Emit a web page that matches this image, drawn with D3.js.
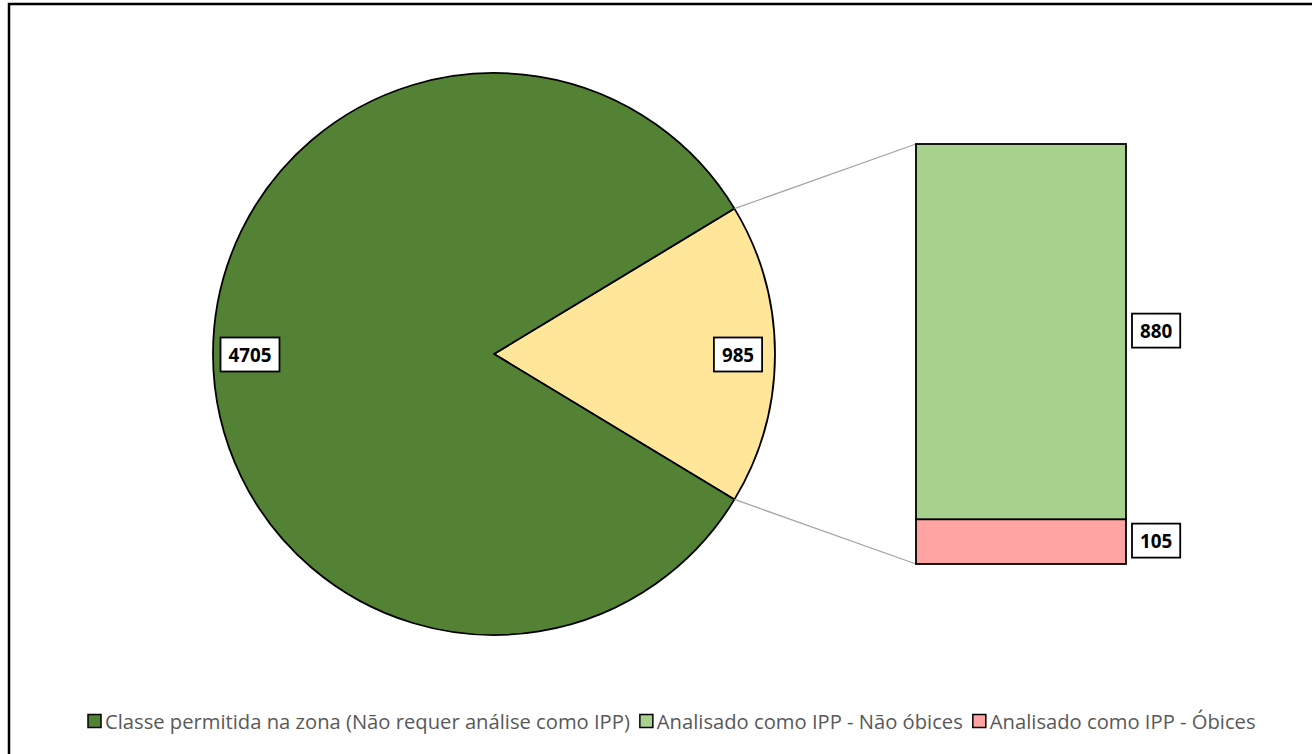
<!DOCTYPE html>
<html>
<head>
<meta charset="utf-8">
<script src="https://cdn.jsdelivr.net/npm/d3@7"></script>
<style>
  html, body { margin: 0; padding: 0; background: #fff; }
  svg { display: block; }
</style>
</head>
<body>
<svg id="chart" width="1312" height="754"></svg>
<script>
// Pie: main class vs. the group that was analysed as IPP
const pieLabels = ["Classe permitida na zona (Não requer análise como IPP)", "Analisado como IPP"];
const pieValues = [4705, 985];
const pieColors = ["#548235", "#FFE699"];

// Breakdown of the analysed group, drawn as a stacked bar (bottom to top)
const barLabels = ["Analisado como IPP - Óbices", "Analisado como IPP - Não óbices"];
const barValues = [105, 880];
const barColors = ["#FFA3A3", "#A9D18E"];

// Legend entries
const legendLabels = [
  "Classe permitida na zona (Não requer análise como IPP)",
  "Analisado como IPP - Não óbices",
  "Analisado como IPP - Óbices"
];
const legendColors = ["#548235", "#A9D18E", "#FFA3A3"];

const svg = d3.select("#chart");
const W = 1312, H = 754;
const FONT = "'Open Sans', 'Liberation Sans', sans-serif";

// Outer chart frame
svg.append("rect")
  .attr("x", 9).attr("y", 4)
  .attr("width", W + 10).attr("height", H + 10)
  .attr("fill", "#fff")
  .attr("stroke", "#000").attr("stroke-width", 2.5);

const cx = 494, cy = 354, R = 281;
const total = d3.sum(pieValues);
const splitFrac = pieValues[1] / total;

// Analysed slice centred at 3 o'clock
const pie = d3.pie().sort(null)
  .startAngle(Math.PI / 2 - splitFrac * Math.PI)
  .endAngle(Math.PI / 2 - splitFrac * Math.PI + 2 * Math.PI);
const arcs = pie([pieValues[1], pieValues[0]]);
const arcColor = [pieColors[1], pieColors[0]];
const arcGen = d3.arc().innerRadius(0).outerRadius(R);

const g = svg.append("g").attr("transform", `translate(${cx},${cy})`);

// Bar geometry
const barX = 916, barW = 210;
const y = d3.scaleLinear().domain([0, d3.sum(barValues)]).range([564, 144]);

// Connector lines from slice edges to the bar
const a0 = arcs[0].startAngle, a1 = arcs[0].endAngle;
const p0 = [cx + R * Math.sin(a0), cy - R * Math.cos(a0)];
const p1 = [cx + R * Math.sin(a1), cy - R * Math.cos(a1)];
svg.append("line")
  .attr("x1", p0[0]).attr("y1", p0[1])
  .attr("x2", barX).attr("y2", y(d3.sum(barValues)))
  .attr("stroke", "#A6A6A6").attr("stroke-width", 1.3);
svg.append("line")
  .attr("x1", p1[0]).attr("y1", p1[1])
  .attr("x2", barX).attr("y2", y(0))
  .attr("stroke", "#A6A6A6").attr("stroke-width", 1.3);

g.selectAll("path.slice").data(arcs).enter().append("path")
  .attr("class", "slice")
  .attr("d", arcGen)
  .attr("fill", (d, i) => arcColor[i])
  .attr("stroke", "#000").attr("stroke-width", 1.8)
  .attr("stroke-linejoin", "round");

// Stacked bar
let acc = 0;
const segs = barValues.map((v, i) => {
  const s = { v, i, y0: acc, y1: acc + v };
  acc += v;
  return s;
});
svg.selectAll("rect.seg").data(segs).enter().append("rect")
  .attr("class", "seg")
  .attr("x", barX).attr("width", barW)
  .attr("y", d => y(d.y1))
  .attr("height", d => y(d.y0) - y(d.y1))
  .attr("fill", d => barColors[d.i])
  .attr("stroke", "#000").attr("stroke-width", 1.8);

// Measure a string at a given font size
function measure(text, size, weight) {
  const t = svg.append("text").attr("font-family", FONT)
    .attr("font-weight", weight || "normal").attr("font-size", size).text(text);
  const w = t.node().getComputedTextLength();
  t.remove();
  return w;
}

// Value label font sized so a four-digit number spans ~43px
const labelSize = 20 * 43 / measure("4705", 20, "bold");

// Boxed value label
function valueLabel(x, yy, text) {
  const grp = svg.append("g");
  const w = measure(String(text), labelSize, "bold");
  const padX = 8, h = 34;
  grp.append("rect")
    .attr("x", x - w / 2 - padX)
    .attr("y", yy - h / 2)
    .attr("width", w + 2 * padX)
    .attr("height", h)
    .attr("fill", "#fff")
    .attr("stroke", "#000").attr("stroke-width", 1.8);
  grp.append("text")
    .attr("x", x).attr("y", yy)
    .attr("text-anchor", "middle")
    .attr("dominant-baseline", "central")
    .attr("font-family", FONT)
    .attr("font-weight", "bold")
    .attr("font-size", labelSize)
    .attr("fill", "#000")
    .text(text);
  return grp;
}

// Pie labels near the outer edge
const labR = R - 37;
arcs.forEach((d, i) => {
  const m = (d.startAngle + d.endAngle) / 2;
  const lx = cx + labR * Math.sin(m);
  const ly = cy - labR * Math.cos(m) + 0.5;
  valueLabel(lx, ly, d.value);
});

// Bar labels to the right of each segment
segs.forEach(s => {
  const yy = (y(s.y0) + y(s.y1)) / 2 - 1;
  const w = measure(String(s.v), labelSize, "bold");
  valueLabel(barX + barW + 6 + 8 + w / 2, yy, s.v);
});

// Legend, sized so the first entry spans ~525px
const legendSize = 18 * 525 / measure(legendLabels[0], 18);
const legendY = 721;
const lg = svg.append("g");
let lx = 88;
const sq = 13;
legendLabels.forEach((lab, i) => {
  lg.append("rect")
    .attr("x", lx).attr("y", legendY - sq / 2)
    .attr("width", sq).attr("height", sq)
    .attr("fill", legendColors[i])
    .attr("stroke", "#000").attr("stroke-width", 1.5);
  const t = lg.append("text")
    .attr("x", lx + sq + 4).attr("y", legendY)
    .attr("dominant-baseline", "central")
    .attr("font-family", FONT)
    .attr("font-size", legendSize)
    .attr("fill", "#595959")
    .text(lab);
  lx += sq + 4 + t.node().getComputedTextLength() + 10;
});
</script>
</body>
</html>
